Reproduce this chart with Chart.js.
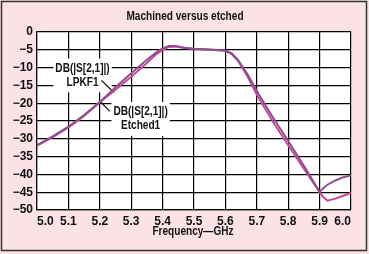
<!DOCTYPE html>
<html>
<head>
<meta charset="utf-8">
<script src="https://cdn.jsdelivr.net/npm/chart.js@4/dist/chart.umd.min.js"></script>
<style>
  html, body { margin: 0; padding: 0; background: #ffffff; }
  canvas { display: block; }
</style>
</head>
<body>
<canvas id="chart" width="369" height="254"></canvas>
<script>
// frequency points (GHz) and S21 magnitude (dB)
const freqs = [5.00, 5.05, 5.10, 5.15, 5.20, 5.25, 5.30, 5.35, 5.38, 5.40, 5.42, 5.44, 5.47, 5.50, 5.55, 5.60,
  5.62, 5.64, 5.67, 5.70, 5.75, 5.80, 5.85, 5.90, 5.91, 5.925, 5.95, 5.975, 6.00];
const lpkf = [-31.8, -29.3, -26.6, -23.3, -19.7, -15.5, -11.6, -7.8, -5.7, -4.6, -3.9, -3.9, -4.4, -4.7, -4.9, -5.2,
  -6.0, -7.8, -11.8, -16.6, -23.8, -30.6, -37.6, -44.9, -44.0, -42.9, -41.7, -40.8, -40.3];
const etched = [-31.9, -29.5, -26.8, -23.6, -19.7, -16.2, -12.6, -8.7, -6.2, -5.0, -4.2, -4.1, -4.5, -4.8, -5.0, -5.3,
  -6.2, -8.1, -12.4, -17.6, -25.0, -31.8, -38.4, -45.0, -46.2, -47.4, -46.8, -46.0, -45.2];

const chartTitle = 'Machined versus etched';
const xTitle = 'Frequency\u2014GHz';
const xRange = [5.0, 6.0, 0.1];
const yRange = [-50, 0, 5];

// trace labels: text lines, label centre and leader line (data units)
const traceLabels = [
  { lines: ['DB(|S[2,1]|)', 'LPKF1'], x: 5.145, y: -12.2, from: [5.205, -13.6], to: [5.245, -17.0] },
  { lines: ['DB(|S[2,1]|)', 'Etched1'], x: 5.33, y: -24.4, from: [5.232, -22.3], to: [5.202, -19.6] }
];

const FONT = '"Liberation Sans", Arial, sans-serif';
const NARROW = 0.84;

function narrowText(c, t, x, y) {
  c.save();
  c.translate(x, y);
  c.scale(NARROW, 1);
  c.fillText(t, 0, 0);
  c.restore();
}

const frame = {
  id: 'frame',
  beforeDraw(chart) {
    const c = chart.ctx;
    c.save();
    c.fillStyle = '#fbe2e7';
    c.fillRect(0, 0, chart.width, chart.height);
    c.strokeStyle = '#333';
    c.lineWidth = 1.5;
    c.strokeRect(1.5, 1.5, 365, 249);
    const a = chart.chartArea;
    c.fillStyle = '#ffffff';
    c.fillRect(a.left, a.top, a.right - a.left, a.bottom - a.top);
    c.fillStyle = '#111';
    c.textAlign = 'center';
    c.textBaseline = 'middle';
    c.font = 'bold 12px ' + FONT;
    narrowText(c, chartTitle, 185, 17);
    narrowText(c, xTitle, (a.left + a.right) / 2 - 1, 232);
    c.restore();
  },
  beforeDatasetsDraw(chart) {
    const c = chart.ctx;
    const xs = chart.scales.x, ys = chart.scales.y;
    c.save();
    c.font = 'bold 12px ' + FONT;
    traceLabels.forEach(l => {
      const cx = xs.getPixelForValue(l.x), cy = ys.getPixelForValue(l.y);
      const w = Math.max(...l.lines.map(t => c.measureText(t).width)) * NARROW + 4;
      const h = l.lines.length * 14 + 6;
      c.fillStyle = '#ffffff';
      c.fillRect(cx - w / 2, cy - h / 2, w, h);
      c.strokeStyle = '#111';
      c.lineWidth = 1.2;
      c.beginPath();
      c.moveTo(xs.getPixelForValue(l.from[0]), ys.getPixelForValue(l.from[1]));
      c.lineTo(xs.getPixelForValue(l.to[0]), ys.getPixelForValue(l.to[1]));
      c.stroke();
    });
    c.restore();
  },
  afterDatasetsDraw(chart) {
    const c = chart.ctx;
    const xs = chart.scales.x, ys = chart.scales.y;
    c.save();
    c.font = 'bold 12px ' + FONT;
    c.fillStyle = '#111';
    c.textAlign = 'center';
    c.textBaseline = 'middle';
    traceLabels.forEach(l => {
      const cx = xs.getPixelForValue(l.x), cy = ys.getPixelForValue(l.y);
      const top = cy - (l.lines.length - 1) * 14 / 2;
      l.lines.forEach((t, i) => narrowText(c, t, cx, top + i * 14));
    });
    c.restore();
  }
};

const ctx = document.getElementById('chart').getContext('2d');
new Chart(ctx, {
  type: 'line',
  data: {
    datasets: [
      {
        label: 'LPKF1',
        data: freqs.map((f, i) => ({ x: f, y: lpkf[i] })),
        borderColor: '#8a4f8c',
        borderWidth: 2,
        pointRadius: 0,
        tension: 0
      },
      {
        label: 'Etched1',
        data: freqs.map((f, i) => ({ x: f, y: etched[i] })),
        borderColor: '#c8479b',
        borderWidth: 2,
        pointRadius: 0,
        tension: 0
      }
    ]
  },
  options: {
    responsive: false,
    animation: false,
    layout: { padding: { top: 32, right: 18, left: 0, bottom: 0 } },
    plugins: {
      legend: { display: false },
      tooltip: { enabled: false },
      title: { display: false }
    },
    scales: {
      x: {
        type: 'linear',
        min: xRange[0],
        max: xRange[1],
        afterFit(s) { s.height = 44; },
        grid: { color: '#000000', lineWidth: 1.2, drawTicks: false },
        border: { color: '#111', width: 1.2 },
        ticks: {
          stepSize: xRange[2],
          autoSkip: false,
          align: 'inner',
          padding: 4,
          maxRotation: 0,
          color: '#111',
          font: { family: FONT, size: 12, weight: 'bold' },
          callback: v => v.toFixed(1)
        }
      },
      y: {
        min: yRange[0],
        max: yRange[1],
        afterFit(s) { s.width = 37; },
        grid: { color: '#000000', lineWidth: 1.2, drawTicks: false },
        border: { color: '#111', width: 1.2 },
        ticks: {
          stepSize: yRange[2],
          autoSkip: false,
          padding: 4,
          color: '#111',
          font: { family: FONT, size: 12, weight: 'bold' },
          callback: v => v < 0 ? '\u2212' + Math.abs(v) : String(v)
        }
      }
    }
  },
  plugins: [frame]
});
</script>
</body>
</html>
